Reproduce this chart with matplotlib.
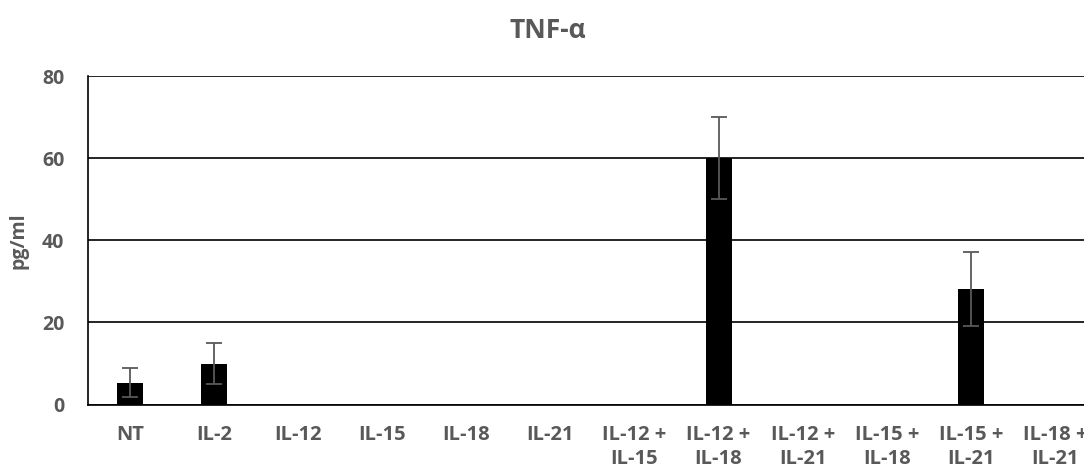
import numpy as np
import matplotlib
matplotlib.use('Agg')
import matplotlib.pyplot as plt

categories = ['NT', 'IL-2', 'IL-12', 'IL-15', 'IL-18', 'IL-21',
              'IL-12 +\nIL-15', 'IL-12 +\nIL-18', 'IL-12 +\nIL-21',
              'IL-15 +\nIL-18', 'IL-15 +\nIL-21', 'IL-18 +\nIL-21']
values = [5.3, 9.9, 0, 0, 0, 0, 0, 60.0, 0, 0, 28.2, 0]
errors = [3.5, 5.0, 0, 0, 0, 0, 0, 10.0, 0, 0, 9.0, 0]
yticks = [0, 20, 40, 60, 80]

textColor = '#595959'
plt.rcParams['font.family'] = ['Open Sans', 'DejaVu Sans']

fig = plt.figure(figsize=(10.84, 4.72), dpi=100)
# plot area runs past the right edge of the picture, as in the reference
ax = fig.add_axes([88 / 1084, 1 - 404.5 / 472, 1009 / 1084, 328.5 / 472])

x = np.arange(len(categories))
hasErr = [e > 0 for e in errors]
ax.bar(x, values, width=0.31, color='black', zorder=3)
ax.errorbar(x[hasErr], np.array(values)[hasErr], yerr=np.array(errors)[hasErr],
            fmt='none', ecolor=textColor, elinewidth=1.3, capsize=6, capthick=1.3, zorder=4)

ax.set_xlim(-0.5, len(categories) - 0.5)
ax.set_ylim(0, 80)
ax.set_yticks(yticks)
ax.yaxis.grid(True, color='black', linewidth=1.2, zorder=0)
ax.set_axisbelow(True)
for side in ['top', 'right']:
  ax.spines[side].set_visible(False)
for side in ['left', 'bottom']:
  ax.spines[side].set_color('black')
  ax.spines[side].set_linewidth(1.2)

ax.set_xticks(x)
ax.set_xticklabels(categories, fontsize=14.5, fontweight='bold', color=textColor, linespacing=1.25)
ax.tick_params(axis='x', length=0, pad=15)
ax.tick_params(axis='y', length=0, pad=17, labelsize=14, labelcolor=textColor)
for lbl in ax.get_yticklabels():
  lbl.set_fontweight('bold')

ax.set_ylabel('pg/ml', fontsize=14, fontweight='bold', color=textColor, labelpad=10)
fig.text(548 / 1084, 1 - 31 / 472, 'TNF-\u03b1', ha='center', va='center',
         fontsize=19, fontweight='bold', color=textColor)

fig.savefig('out.png', dpi=100)
